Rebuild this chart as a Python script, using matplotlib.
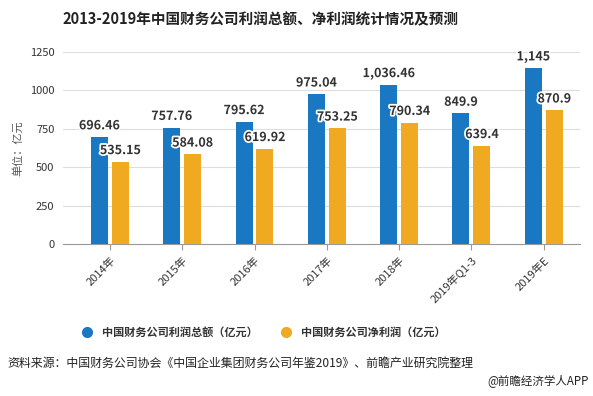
import numpy as np
import matplotlib
matplotlib.use("Agg")
import matplotlib.pyplot as plt
import matplotlib.patheffects as pe
from matplotlib.lines import Line2D

plt.rcParams['font.family'] = ['Noto Sans CJK SC', 'DejaVu Sans']

categories = ["2014年", "2015年", "2016年", "2017年", "2018年", "2019年Q1-3", "2019年E"]
total_profit = [696.46, 757.76, 795.62, 975.04, 1036.46, 849.9, 1145]
net_profit = [535.15, 584.08, 619.92, 753.25, 790.34, 639.4, 870.9]
total_labels = ["696.46", "757.76", "795.62", "975.04", "1,036.46", "849.9", "1,145"]
net_labels = ["535.15", "584.08", "619.92", "753.25", "790.34", "639.4", "870.9"]

blue = "#1a78c2"
yellow = "#efaa22"

fig = plt.figure(figsize=(5.93, 3.96), dpi=100)
ax = fig.add_axes([0.106, 0.384, 0.872, 0.485])

x = np.arange(len(categories))
w = 0.235
off = 0.145
ax.bar(x - off, total_profit, w, color=blue, zorder=3)
ax.bar(x + off, net_profit, w, color=yellow, zorder=3)

stroke = [pe.withStroke(linewidth=2.5, foreground="white")]
for i in range(len(x)):
    ax.text(x[i] - off, total_profit[i] + 30, total_labels[i], ha="center", va="bottom",
            fontsize=9, fontweight="bold", color="#333333", path_effects=stroke, zorder=5)
    ax.text(x[i] + off, net_profit[i] + 30, net_labels[i], ha="center", va="bottom",
            fontsize=9, fontweight="bold", color="#333333", path_effects=stroke, zorder=5)

ax.set_ylim(0, 1250)
ax.set_yticks([0, 250, 500, 750, 1000, 1250])
ax.set_xlim(-0.65, 6.5)
ax.set_xticks(x)
ax.set_xticklabels(categories, rotation=45, ha="right", rotation_mode="anchor")
ax.tick_params(axis="x", length=4, color="#999999", labelsize=8, labelcolor="#333333", pad=4)
ax.tick_params(axis="y", length=0, labelsize=8, labelcolor="#333333", pad=6)
ax.grid(axis="y", color="#dddddd", linewidth=0.8, zorder=0)
for s in ["top", "right", "left"]:
    ax.spines[s].set_visible(False)
ax.spines["bottom"].set_color("#999999")
ax.set_ylabel("单位：亿元", fontsize=8, color="#555555", labelpad=5)

fig.text(0.44, 0.95, "2013-2019年中国财务公司利润总额、净利润统计情况及预测",
         ha="center", va="center", fontsize=10.5, fontweight="bold", color="#222222")

handles = [Line2D([], [], marker="o", linestyle="", markersize=7, color=blue),
           Line2D([], [], marker="o", linestyle="", markersize=7, color=yellow)]
fig.legend(handles, ["中国财务公司利润总额（亿元）", "中国财务公司净利润（亿元）"],
           loc="center", bbox_to_anchor=(0.44, 0.16), ncol=2, frameon=False,
           prop={"size": 8, "weight": "bold"}, handletextpad=0.3, columnspacing=1.6,
           labelcolor="#333333")

fig.text(0.013, 0.083, "资料来源：中国财务公司协会《中国企业集团财务公司年鉴2019》、前瞻产业研究院整理",
         ha="left", va="center", fontsize=8.6, color="#222222")
fig.text(0.992, 0.038, "@前瞻经济学人APP", ha="right", va="center", fontsize=8.3, color="#222222")

fig.savefig("out.png", dpi=100, facecolor="white")
